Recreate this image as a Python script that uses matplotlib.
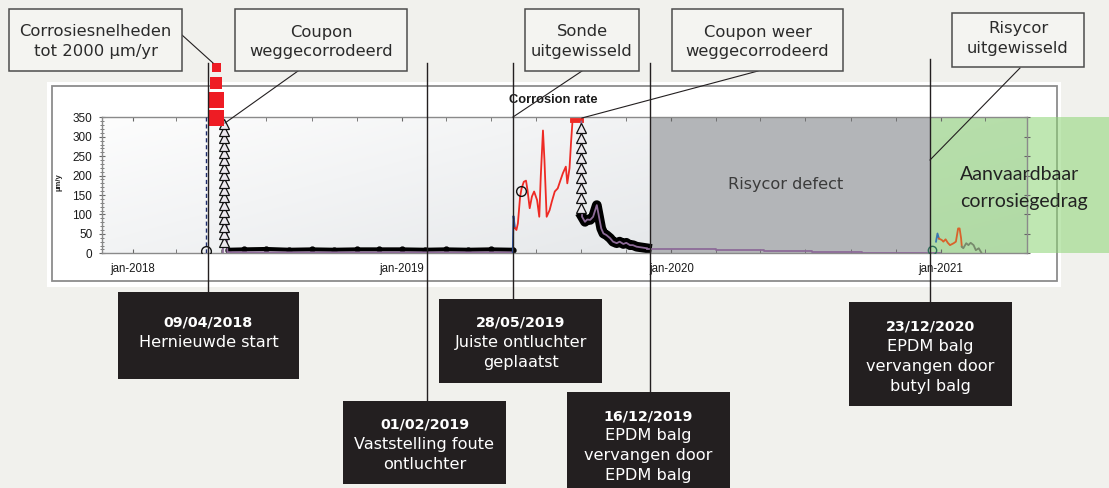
import matplotlib
matplotlib.use("Agg")
import matplotlib.pyplot as plt
import matplotlib.dates as mdates
import matplotlib.ticker as ticker
import matplotlib.transforms as mtransforms
from matplotlib.patches import Rectangle
from matplotlib.lines import Line2D
import numpy as np
import pandas as pd

W, H = 1109, 488

# ---------------- data (µm/y) ----------------

# restart in april 2018: dashed line and open circle
start_dates = ['2018-04-10', '2018-04-10']
start_vals = [0, 350]
restart_dates = ['2018-04-10']
restart_vals = [7]

# off-scale readings (above 350), drawn as red blocks over the frame
offscale_dates = ['2018-04-24'] * 4
offscale_vals = [348, 394, 438, 479]

# coupon 1: column of triangle readings
coupon1_dates = ['2018-05-04'] * 17
coupon1_vals = [30, 49, 68, 87, 106, 125, 144, 163, 182, 201, 220, 239, 258, 277, 296, 315, 334]

# purple line 2018-2019
purple1_dates = ['2018-05-03', '2018-05-04', '2018-05-09', '2018-07-01', '2018-10-01',
                 '2019-01-01', '2019-04-01', '2019-05-31']
purple1_vals = [3, 345, 3, 2.5, 2.5, 2.5, 2.5, 2.5]

# black probe readings 2018-2019
probe1_dates = ['2018-05-10', '2018-06-01', '2018-07-01', '2018-08-01', '2018-09-01',
                '2018-10-01', '2018-11-01', '2018-12-01', '2019-01-01', '2019-02-01',
                '2019-03-01', '2019-04-01', '2019-05-01', '2019-05-31']
probe1_vals = [9, 10, 11, 9, 10, 9, 10, 10, 10, 9, 10, 9, 10, 9]

# new probe (blue start, then red)
blue_dates = ['2019-05-31', '2019-06-01', '2019-06-03']
blue_vals = [0, 96, 65]

red_dates = ['2019-06-03', '2019-06-05', '2019-06-07', '2019-06-10', '2019-06-12', '2019-06-15',
             '2019-06-18', '2019-06-20', '2019-06-23', '2019-06-26', '2019-06-29',
             '2019-07-03', '2019-07-06', '2019-07-08', '2019-07-11', '2019-07-13',
             '2019-07-16', '2019-07-20', '2019-07-23', '2019-07-27', '2019-07-31',
             '2019-08-03', '2019-08-07', '2019-08-11', '2019-08-13', '2019-08-16',
             '2019-08-18', '2019-08-20']
red_vals = [65, 60, 77, 146, 167, 184, 187, 163, 116, 146, 159, 137, 94, 197, 316, 240,
            94, 111, 133, 159, 167, 184, 206, 223, 180, 219, 283, 339]
red_cap_dates = ['2019-08-20', '2019-09-01']
red_cap_vals = [342, 342]
probe_circle_dates = ['2019-06-11']
probe_circle_vals = [160]

# coupon 2: triangle column, then decay
coupon2_dates = ['2019-09-01'] * 9
coupon2_vals = [322, 296, 270, 244, 219, 193, 167, 142, 116]

purple2_dates = ['2019-09-01', '2019-09-02', '2019-09-06', '2019-09-09', '2019-09-13',
                 '2019-09-17', '2019-09-22', '2019-09-25', '2019-09-28', '2019-10-01',
                 '2019-10-05', '2019-10-10', '2019-10-14', '2019-10-19', '2019-10-23',
                 '2019-10-28', '2019-11-01', '2019-11-06', '2019-11-10', '2019-11-15',
                 '2019-11-22', '2019-11-29']
purple2_vals = [339, 94, 81, 87, 86, 94, 124, 94, 64, 51, 47, 39, 30, 26, 30, 24, 27,
                21, 21, 17, 15, 13]

# 2020, risycor defect
purple3_dates = ['2019-11-29', '2019-12-31', '2020-03-02', '2020-05-06', '2020-07-10',
                 '2020-09-16', '2020-12-15', '2020-12-31']
purple3_vals = [12, 10, 8, 6, 4, 1, 0.5, 0.5]

# new risycor from dec 2020
teal_dates = ['2020-12-19']
teal_vals = [8]
blue2_dates = ['2020-12-25', '2020-12-27', '2020-12-29']
blue2_vals = [30, 51, 38]
orange_dates = ['2020-12-29', '2021-01-02', '2021-01-04', '2021-01-07', '2021-01-10',
                '2021-01-13', '2021-01-18', '2021-01-21', '2021-01-24', '2021-01-26',
                '2021-01-28', '2021-01-29']
orange_vals = [38, 34, 30, 36, 27, 21, 26, 30, 64, 64, 39, 17]
grey_dates = ['2021-01-29', '2021-01-31', '2021-02-04', '2021-02-07', '2021-02-10',
              '2021-02-14', '2021-02-17', '2021-02-21', '2021-02-25']
grey_vals = [17, 13, 26, 21, 27, 21, 8, 13, 0]

# annotation texts
top_labels = [['Corrosiesnelheden', 'tot 2000 µm/yr'], ['Coupon', 'weggecorrodeerd'],
              ['Sonde', 'uitgewisseld'], ['Coupon weer', 'weggecorrodeerd'],
              ['Risycor', 'uitgewisseld']]
event_labels = [['09/04/2018', 'Hernieuwde start'],
                ['01/02/2019', 'Vaststelling foute', 'ontluchter'],
                ['28/05/2019', 'Juiste ontluchter', 'geplaatst'],
                ['16/12/2019', 'EPDM balg', 'vervangen door', 'EPDM balg'],
                ['23/12/2020', 'EPDM balg', 'vervangen door', 'butyl balg']]

d = pd.to_datetime

plt.rcParams['font.family'] = 'Liberation Sans'

# ---------------- figure + helpers (pixel coords) ----------------
fig = plt.figure(figsize=(W / 100, H / 100), dpi=100, facecolor='#f1f1ed')


def fx(x):
    return x / W


def fy(y):
    return 1 - y / H


def fig_rect(x0, y0, x1, y1, z, **kw):
    fig.add_artist(Rectangle((fx(x0), fy(y1)), (x1 - x0) / W, (y1 - y0) / H,
                             transform=fig.transFigure, zorder=z, **kw))


def fig_line(x0, y0, x1, y1, lw=1.0, z=8):
    fig.add_artist(Line2D([fx(x0), fx(x1)], [fy(y0), fy(y1)], transform=fig.transFigure,
                          color='#231f20', lw=lw, zorder=z))


# white chart panel
fig_rect(47, 82, 1061, 287, -2, fc='white', ec='none')
fig_rect(52, 86, 1057, 281, -1.5, fc='none', ec='#8c8c8c', lw=1.3)
# green zone (outside the axes part)
fig_rect(930, 117.3, 1109, 253.3, -1, fc=(140 / 255, 212 / 255, 115 / 255), alpha=0.55, ec='none')

ax = fig.add_axes([fx(102), fy(253.3), (1026.7 - 102) / W, 136 / H])

# background gradient
gx, gy = np.meshgrid(np.linspace(0, 1, 200), np.linspace(0, 1, 60))
t = (0.65 * gx + 0.35 * gy)[..., None]
c0 = np.array([253, 253, 253]) / 255
c1 = np.array([222, 225, 228]) / 255
ax.imshow(c0 + (c1 - c0) * t, extent=(0, 1, 0, 1), transform=ax.transAxes,
          aspect='auto', zorder=0)

blend = mtransforms.blended_transform_factory(fig.transFigure, ax.transAxes)
ax.add_patch(Rectangle((fx(650), 0), (930 - 650) / W, 1, transform=blend,
                       fc='#b3b5b8', ec='none', zorder=1))
ax.add_patch(Rectangle((fx(930), 0), (1109 - 930) / W, 1, transform=blend,
                       fc=(140 / 255, 212 / 255, 115 / 255), alpha=0.55, ec='none', zorder=1.2))

# ---------------- series ----------------
purple = '#8d6b98'
ax.plot(d(start_dates), start_vals, color='#1f2d6b', lw=1.0, ls=(0, (3, 2)), zorder=3)
ax.plot(d(restart_dates), restart_vals, 'o', ms=7, mfc='none', mec='#111', mew=1, zorder=5)

ax.plot(d(probe1_dates), probe1_vals, color='black', lw=3, marker='o', ms=3.5, zorder=2.5)
ax.plot(d(purple1_dates), purple1_vals, color=purple, lw=1.3, zorder=3)
ax.plot(d(coupon1_dates), coupon1_vals, ls='none', marker='^', ms=6.5, mfc='#ece8ee',
        mec='#111', mew=0.9, zorder=4)

ax.plot(d(blue_dates), blue_vals, color='#2f55a4', lw=1.3, zorder=3)
ax.plot(d(red_dates), red_vals, color='#ee2a24', lw=1.3, zorder=3)
ax.plot(d(red_cap_dates), red_cap_vals, color='#ee2a24', lw=3.5, zorder=3, clip_on=False)
ax.plot(d(probe_circle_dates), probe_circle_vals, 'o', ms=7, mfc='none', mec='#111', mew=1, zorder=5)

ax.plot(d(purple2_dates[1:]), purple2_vals[1:], color='black', lw=7, solid_joinstyle='round',
        zorder=2.5)
ax.plot(d(purple2_dates), purple2_vals, color=purple, lw=1.3, zorder=3)
ax.plot(d(coupon2_dates), coupon2_vals, ls='none', marker='^', ms=6.5, mfc='#ece8ee',
        mec='#111', mew=0.9, zorder=4)

ax.plot(d(purple3_dates), purple3_vals, color=purple, lw=1.3, drawstyle='steps-post', zorder=3)

ax.plot(d(teal_dates), teal_vals, 'o', ms=6, mfc='none', mec='#2d6e58', mew=1, zorder=5)
ax.plot(d(blue2_dates), blue2_vals, color='#3b76b0', lw=1.3, zorder=3)
ax.plot(d(orange_dates), orange_vals, color='#d9622b', lw=1.3, zorder=3)
ax.plot(d(grey_dates), grey_vals, color='#778a6c', lw=1.3, zorder=3)

ax.scatter(d(offscale_dates), offscale_vals, marker='s', s=[130, 130, 70, 40],
           color='#ee1c24', linewidths=0, clip_on=False, zorder=6)

# ---------------- axes styling ----------------
ax.set_xlim(d('2017-11-20'), d('2021-04-27'))
ax.set_ylim(0, 350)
ax.xaxis.set_major_locator(mdates.YearLocator())
ax.xaxis.set_major_formatter(mdates.DateFormatter('jan-%Y'))
ax.xaxis.set_minor_locator(mdates.MonthLocator(bymonth=[3, 5, 7, 9, 11]))
ax.yaxis.set_major_locator(ticker.MultipleLocator(50))
ax.yaxis.set_minor_locator(ticker.MultipleLocator(10))

ax.tick_params(axis='x', which='both', direction='in', top=True, length=3,
               color='#666', labelsize=8.3, labelcolor='#1a1a1a', pad=7)
ax.tick_params(axis='y', which='major', direction='inout', length=5, left=True, right=True,
               color='#666', labelsize=8.5, labelcolor='#1a1a1a', pad=4.5)
ax.tick_params(axis='y', which='minor', direction='inout', length=2.5, left=True, right=False,
               color='#666')
for s in ax.spines.values():
    s.set_color('#8a8a8a')
    s.set_linewidth(1)

ax.set_ylabel('µm/y', fontsize=5.5, fontweight='bold', color='#222')
ax.yaxis.set_label_coords(-0.043, 0.52)
ax.text(0.488, 1.125, 'Corrosion rate', transform=ax.transAxes, ha='center', va='center',
        fontsize=9.3, fontweight='bold', color='#1a1a1a')

# ---------------- annotation layer ----------------
ann = dict(family='DejaVu Sans', ha='center', va='center', zorder=10)

fig.text(fx(786), fy(184), 'Risycor defect', fontsize=11.6, color='#3b3b3b', **ann)
fig.text(fx(960), fy(174), 'Aanvaardbaar', fontsize=14, color='#222', family='Lato',
         ha='left', va='center', zorder=10)
fig.text(fx(960), fy(202), 'corrosiegedrag', fontsize=14, color='#222', family='Lato',
         ha='left', va='center', zorder=10)

# event lines
for x, y0, y1 in [(208, 63, 292), (427, 63, 401), (513, 63, 299), (650, 63, 392), (930, 59, 302)]:
    fig_line(x, y0, x, y1, lw=1.0)

# leader lines from top boxes
for x0, y0, x1, y1 in [(182, 35, 213, 63), (298, 71, 225, 123), (582, 71, 513, 117),
                       (758, 71, 582, 118), (1020, 68, 930, 160)]:
    fig_line(x0, y0, x1, y1, lw=0.8)

# top boxes
top_boxes = [(9, 9, 182, 71, 32), (235, 9, 407, 71, 32), (525, 9, 639, 71, 32),
             (672, 9, 843, 71, 32), (952, 13, 1084, 67, 29)]
for (x0, y0, x1, y1, ty), lines in zip(top_boxes, top_labels):
    fig_rect(x0, y0, x1, y1, 9, fc='#f4f4f1', ec='#4d4d4d', lw=1.1)
    for i, line in enumerate(lines):
        fig.text(fx((x0 + x1) / 2), fy(ty + 19.5 * i), line, fontsize=11.8, color='#2b2b2b', **ann)

# bottom boxes
bottom_boxes = [(118, 292, 299, 379, 323), (343, 401, 506, 484, 425), (439, 299, 602, 383, 323),
                (567, 392, 730, 492, 416), (849, 302, 1012, 406, 327)]
for (x0, y0, x1, y1, ty), lines in zip(bottom_boxes, event_labels):
    fig_rect(x0, y0, x1, y1, 9, fc='#231f20', ec='none')
    for i, line in enumerate(lines):
        fig.text(fx((x0 + x1) / 2), fy(ty + 19.8 * i), line, color='white',
                 fontsize=10.3 if i == 0 else 11.6, fontweight='bold' if i == 0 else 'normal', **ann)

fig.savefig('out.png', dpi=100, facecolor=fig.get_facecolor())
